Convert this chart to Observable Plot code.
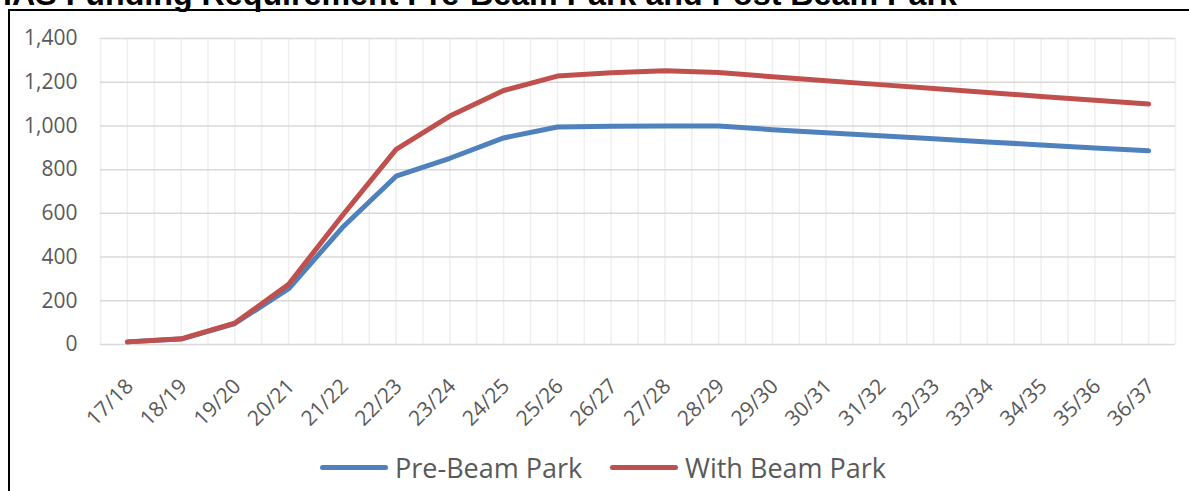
<!DOCTYPE html>
<html>
<head>
<meta charset="utf-8">
<script src="https://cdn.jsdelivr.net/npm/d3@7"></script>
<script src="https://cdn.jsdelivr.net/npm/@observablehq/plot@0.6"></script>
<style>
  html, body { margin: 0; padding: 0; background: #fff; }
  #root { position: relative; width: 1189px; height: 491px; overflow: hidden; background: #fff; }
  #frame { position: absolute; left: 8px; top: 9px; width: 1300px; height: 600px; border-left: 2px solid #000; border-top: 2px solid #000; box-sizing: border-box; }
  #title { position: absolute; left: 0; top: 0; }
  #chart { position: absolute; left: 0; top: 0; }
  .leg { position: absolute; top: 447px; height: 40px; display: flex; align-items: center; font-family: "Open Sans", sans-serif; font-size: 27px; color: #595959; white-space: nowrap; }
  .sw { width: 68px; height: 5px; border-radius: 3px; margin-right: 7px; }
</style>
</head>
<body>
<div id="root">
  <div id="frame"></div>
  <svg id="title" width="1189" height="14"><text id="ttext" x="3" y="5" font-family="Liberation Sans, Arial, sans-serif" font-weight="bold" font-size="24" fill="#000">IAS Funding Requirement Pre-Beam Park and Post Beam Park</text></svg>
  <div id="chart"></div>
  <div class="leg" style="left:320px"><div class="sw" style="background:#4f81bd"></div><span>Pre-Beam Park</span></div>
  <div class="leg" style="left:610px"><div class="sw" style="background:#c0504d"></div><span>With Beam Park</span></div>
</div>
<script>
const categories = ["17/18","18/19","19/20","20/21","21/22","22/23","23/24","24/25","25/26","26/27","27/28","28/29","29/30","30/31","31/32","32/33","33/34","34/35","35/36","36/37"];
const preBeamPark = [12, 25, 96, 255, 535, 770, 852, 945, 995, 998, 1000, 1000, 983, 969, 955, 941, 927, 913, 899, 886];
const withBeamPark = [12, 26, 98, 276, 590, 893, 1045, 1162, 1228, 1243, 1252, 1244, 1225, 1207, 1189, 1171, 1153, 1135, 1117, 1100];
const yTicks = [0, 200, 400, 600, 800, 1000, 1200, 1400];
const seriesNames = ["Pre-Beam Park", "With Beam Park"];
const seriesColors = ["#4f81bd", "#c0504d"];

// fit title width
const tt = document.getElementById("ttext");
const w = tt.getComputedTextLength();
tt.setAttribute("font-size", (24 * 954 / w).toFixed(2));

const rows = [];
[preBeamPark, withBeamPark].forEach((vals, s) => {
  vals.forEach((v, i) => rows.push({cat: categories[i], value: v, series: seriesNames[s]}));
});

const W = 1189, H = 430, mL = 100, mR = 14, mT = 38, mB = 86;
const step = (W - mL - mR) / categories.length;

const chart = Plot.plot({
  width: W, height: H,
  marginLeft: mL, marginRight: mR, marginTop: mT, marginBottom: mB,
  style: {fontFamily: "Open Sans, sans-serif", background: "transparent", overflow: "visible"},
  x: {type: "point", domain: categories, padding: 0.5, round: false, axis: null},
  y: {domain: [0, 1400], axis: null},
  color: {domain: seriesNames, range: seriesColors},
  marks: [
    Plot.ruleX(categories, {x: d => d, stroke: "#efefef", strokeWidth: 1.5, dx: -step / 2}),
    Plot.ruleX(categories, {x: d => d, stroke: "#efefef", strokeWidth: 1.5}),
    Plot.ruleX(categories.slice(-1), {x: d => d, stroke: "#efefef", strokeWidth: 1.5, dx: step / 2}),
    Plot.ruleY(yTicks, {y: d => d, stroke: "#d9d9d9", strokeWidth: 1.5}),
    Plot.axisY({ticks: yTicks, label: null, tickSize: 0, tickPadding: 23, tickFormat: d3.format(","), fontSize: 21, fill: "#595959"}),
    Plot.text(categories, {x: d => d, frameAnchor: "bottom", dx: 7, dy: 43, rotate: -45, textAnchor: "end", fontSize: 21, fill: "#595959"}),
    Plot.line(rows, {x: "cat", y: "value", z: "series", stroke: "series", strokeWidth: 5, strokeLinejoin: "round", strokeLinecap: "round"})
  ]
});
document.getElementById("chart").appendChild(chart);
</script>
</body>
</html>
